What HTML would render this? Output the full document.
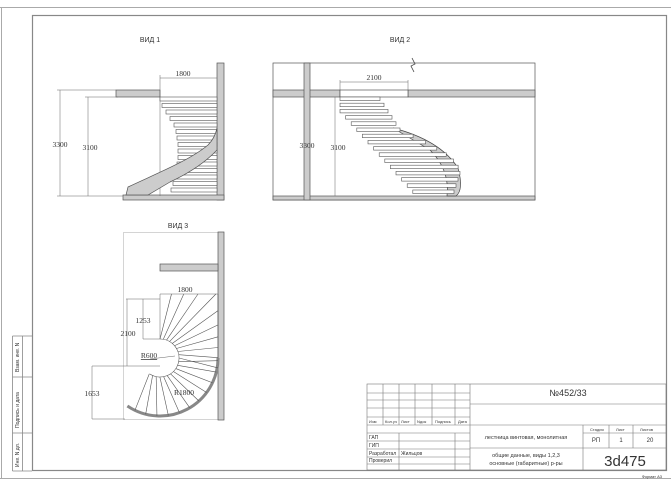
<!DOCTYPE html>
<html><head><meta charset="utf-8"><style>
html,body{margin:0;padding:0;background:#fff;}
svg{display:block;}
text{font-family:"Liberation Serif",serif;fill:#333;}
.s{font-family:"Liberation Sans",sans-serif;}
</style></head><body>
<svg id="d" width="671" height="481" viewBox="0 0 671 481" xmlns="http://www.w3.org/2000/svg">
<rect width="671" height="481" fill="#fff"/>
<path d="M0 7.5H671 M1.5 7V478 M0 478.5H671" stroke="#aaa" stroke-width="1" fill="none"/>
<rect x="32.5" y="15.5" width="634" height="455" fill="none" stroke="#888" stroke-width="1.2"/>
<g stroke="#888" stroke-width="0.8" fill="none">
<path d="M12.5 336V471 M22.5 336V471 M12.5 336H32 M12.5 377H32 M12.5 433H32 M12.5 471H32"/>
</g>
<g class="s" font-size="5" fill="#444">
<text transform="translate(19,372) rotate(-90)" class="s">Взам. инв. N</text>
<text transform="translate(19,428) rotate(-90)" class="s">Подпись и дата</text>
<text transform="translate(19,467) rotate(-90)" class="s">Инв. N дл.</text>
</g>

<!-- VIEW 1 -->
<text x="150" y="42" class="s" font-size="7" text-anchor="middle">ВИД 1</text>
<g stroke="#555" stroke-width="0.7">
<rect x="217" y="63" width="7" height="137" fill="#ccc"/>
<rect x="123" y="195" width="101" height="5" fill="#ccc"/>
<rect x="116" y="90" width="44" height="7" fill="#ccc"/>
</g>
<g stroke="#666" stroke-width="0.5" fill="none">
<path d="M160 78H217 M160 75V196 M57 90H116 M60 90V196 M57 196H123 M85 97H118 M88 97V196"/>
</g>
<text x="183" y="76" font-size="7.5" text-anchor="middle">1800</text>
<text x="60" y="147" font-size="7.5" text-anchor="middle">3300</text>
<text x="90" y="150" font-size="7.5" text-anchor="middle">3100</text>
<g id="st1" stroke="#555" stroke-width="0.6" fill="#fff"></g>
<path d="M126 195 L128 187 C160 172 190 160 208 145 Q215 138 217 128 L217 150 Q200 168 170 182 L148 195 Z" fill="#ccc" stroke="#555" stroke-width="0.7"/>

<!-- VIEW 2 -->
<text x="400" y="42" class="s" font-size="7" text-anchor="middle">ВИД 2</text>
<g stroke="#555" stroke-width="0.7">
<rect x="273" y="63" width="262" height="137" fill="none"/>
<rect x="273" y="90" width="67" height="7" fill="#ccc"/>
<rect x="408" y="90" width="127" height="7" fill="#ccc"/>
<rect x="340" y="90" width="68" height="7" fill="#fff"/>
<rect x="273" y="196" width="262" height="4" fill="#ccc"/>
<rect x="304" y="63" width="6" height="137" fill="#ccc"/>
</g>
<path d="M412 58 L415 64 L411 66 L414 72" stroke="#444" stroke-width="0.8" fill="none"/>
<g stroke="#666" stroke-width="0.5" fill="none">
<path d="M340 82H408 M340 80V90 M408 80V90 M335 97V196"/>
</g>
<text x="374" y="80" font-size="7.5" text-anchor="middle">2100</text>
<text x="307" y="148" font-size="7.5" text-anchor="middle">3300</text>
<text x="338" y="150" font-size="7.5" text-anchor="middle">3100</text>
<path d="M393 128 Q440 140 458 168 Q464 190 456 196 L447 196 Q450 170 430 150 Z" fill="#ccc" stroke="#444" stroke-width="0.7"/>
<g id="st2" stroke="#555" stroke-width="0.6" fill="#fff"></g>

<!-- VIEW 3 -->
<text x="178" y="228" class="s" font-size="7" text-anchor="middle">ВИД 3</text>
<rect x="123.5" y="232.5" width="95" height="187" fill="none" stroke="#aaa" stroke-width="0.5"/>
<g stroke="#555" stroke-width="0.7">
<rect x="218" y="232" width="6" height="188" fill="#ccc"/>
<rect x="160" y="264" width="58" height="7" fill="#ccc"/>
</g>
<g id="st3" stroke="#555" stroke-width="0.6" fill="none"></g>
<g stroke="#666" stroke-width="0.5" fill="none">
<path d="M160 294H218 M143 299H160 M143 299V339 M143 339H160 M126 299H143 M127 299V366 M92 366H160 M92 366V419 M92 419H125 M160 294V339"/>
<path d="M150 359L175 356"/>
</g>
<text x="185" y="292" font-size="7.5" text-anchor="middle">1800</text>
<text x="143" y="323" font-size="7.5" text-anchor="middle">1253</text>
<text x="128" y="336" font-size="7.5" text-anchor="middle">2100</text>
<text x="92" y="396" font-size="7.5" text-anchor="middle">1653</text>
<text x="149" y="358" font-size="7.5" text-anchor="middle" text-decoration="underline">R600</text>
<text x="184" y="395" font-size="7.5" text-anchor="middle">R1800</text>

<!-- TITLE BLOCK -->
<g stroke="#777" stroke-width="0.6" fill="none">
<rect x="367" y="384" width="299" height="86"/>
<path d="M470 384V470 M367 393H470 M367 400H470 M367 408H470 M367 417H470 M367 425H666 M367 433H470 M367 441H470 M367 449H470 M367 457H470 M367 464H470"/>
<path d="M383 384V425 M399 384V425 M415 384V425 M432 384V425 M455 384V425 M399 433V470 M455 433V470"/>
<path d="M470 404H666 M583 425V470 M609 425V448 M633 425V448 M583 433H666 M470 448H666"/>
</g>
<g class="s" font-size="4" fill="#444">
<text x="369" y="423" class="s">Изм</text><text x="385" y="423" class="s">Кол.уч</text><text x="401" y="423" class="s">Лист</text><text x="417" y="423" class="s">Nдок</text><text x="435" y="423" class="s">Подпись</text><text x="458" y="423" class="s">Дата</text>
<text x="369" y="439" class="s" font-size="5">ГАП</text>
<text x="369" y="447" class="s" font-size="5">ГИП</text>
<text x="369" y="455" class="s" font-size="5">Разработал</text>
<text x="401" y="455" class="s" font-size="5">Жильцов</text>
<text x="369" y="462" class="s" font-size="5">Проверил</text>
<text x="590" y="431" class="s">Стадия</text><text x="616" y="431" class="s">Лист</text><text x="640" y="431" class="s">Листов</text>
</g>
<text x="568" y="396" class="s" font-size="9" text-anchor="middle">№452/33</text>
<text x="526" y="439" class="s" font-size="5.5" text-anchor="middle">лестница винтовая, монолитная</text>
<text x="526" y="457" class="s" font-size="5.5" text-anchor="middle">общие данные, виды 1,2,3</text>
<text x="526" y="465" class="s" font-size="5.5" text-anchor="middle">основные (габаритные) р-ры</text>
<text x="596" y="442" class="s" font-size="6" text-anchor="middle">РП</text>
<text x="621" y="442" class="s" font-size="6" text-anchor="middle">1</text>
<text x="650" y="442" class="s" font-size="6" text-anchor="middle">20</text>
<text x="625" y="466" class="s" font-size="15" text-anchor="middle">3d475</text>
<text x="662" y="478" class="s" font-size="4" text-anchor="end">Формат А3</text>
</svg>
<script>
var NS="http://www.w3.org/2000/svg";
function add(g,tag,a){var e=document.createElementNS(NS,tag);for(var k in a)e.setAttribute(k,a[k]);g.appendChild(e);}
var g1=document.getElementById('st1');
var lefts=[160,162,166,170,174,176,177,178,178,178,177,176,175,173,171];
for(var i=0;i<lefts.length;i++){var y=97+i*6.5;add(g1,'rect',{x:lefts[i],y:y,width:217-lefts[i],height:4});}
var g2=document.getElementById('st2');
var n=16;
for(var i=0;i<n;i++){var y=97+i*6.2;var xl=i<3?340:340+(i-2)*5.6;
 var xr;
 if(i<5)xr=380+i*4; else {var u=(i-5)/(n-6);xr=400+60*Math.sin(Math.PI*0.5*Math.min(1,u*1.4))-(u>0.7?(u-0.7)*20:0);}
 add(g2,'rect',{x:xl,y:y,width:Math.max(8,xr-xl),height:3.5});}
var g3=document.getElementById('st3');
var cx=160,cy=358,r=19,R=58;
add(g3,'path',{d:'M'+cx+' '+(cy-r)+' A'+r+' '+r+' 0 1 1 '+(cx+r*Math.cos(Math.PI*0.68))+' '+(cy+r*Math.sin(Math.PI*0.68))});
var a1=Math.PI*0.69;
add(g3,'path',{d:'M'+(cx+R)+' '+cy+' A'+R+' '+R+' 0 0 1 '+(cx+R*Math.cos(a1))+' '+(cy+R*Math.sin(a1)),'stroke-width':3,stroke:'#888'});
add(g3,'path',{d:'M218 294V'+cy});
for(var k=0;k<=9;k++){var a=-Math.PI/2+k*(Math.PI/2)/9;var sx=cx+r*Math.cos(a),sy=cy+r*Math.sin(a);
 var dx=Math.cos(a+0.25),dy=Math.sin(a+0.25);var t1=dy<0?(294-sy)/dy:1e9,t2=dx>0?(218-sx)/dx:1e9;var t=Math.min(t1,t2);
 add(g3,'line',{x1:sx,y1:sy,x2:sx+dx*t,y2:sy+dy*t});}
for(var k=1;k<=11;k++){var a=k*a1/11;var sx=cx+r*Math.cos(a),sy=cy+r*Math.sin(a);var b=a-0.15;
 add(g3,'line',{x1:sx,y1:sy,x2:cx+R*Math.cos(b),y2:cy+R*Math.sin(b)});}
</script>
</body></html>
